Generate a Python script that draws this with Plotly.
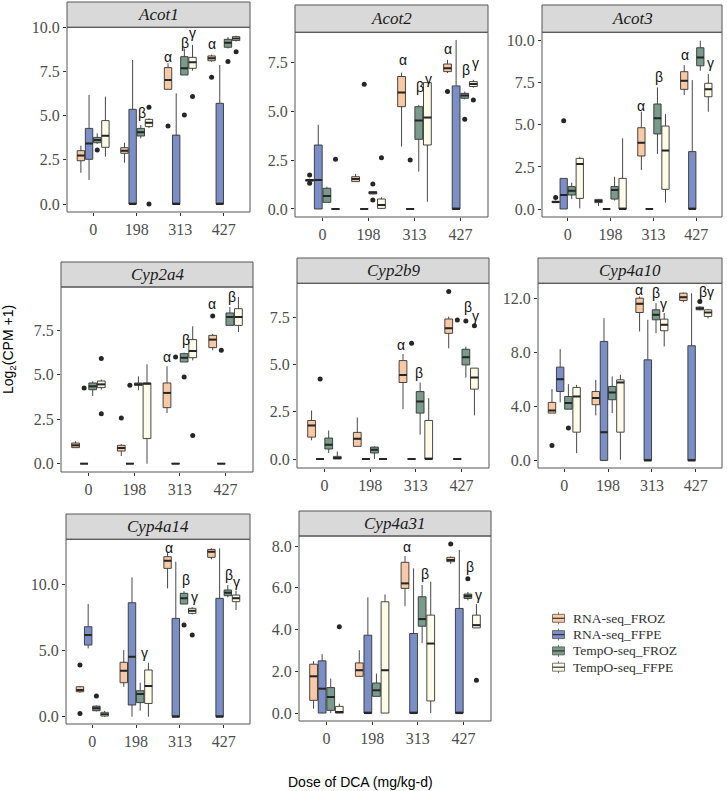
import plotly.graph_objects as go

W, H = 727, 791

doses = ["0", "198", "313", "427"]
series = ["RNA-seq_FROZ", "RNA-seq_FFPE", "TempO-seq_FROZ", "TempO-seq_FFPE"]
colors = ["#F8C9A4", "#7B8EC6", "#789B8C", "#FEFCE9"]

# each entry per dose: [lower whisker, q1, median, q3, upper whisker]
acot1_rna_froz = [[1.77, 2.45, 2.74, 3.02, 3.3], [2.34, 2.87, 3.02, 3.19, 3.47], [6.49, 6.49, 7.02, 7.72, 7.96], [8.05, 8.11, 8.25, 8.38, 8.45]]
acot1_rna_ffpe = [[1.36, 2.53, 3.43, 4.28, 6.17], [0, 0, 0, 5.36, 8.15], [0, 0, 0, 3.9, 6.26], [0, 0, 0, 5.7, 7.87]]
acot1_tmp_froz = [[3.4, 3.47, 3.62, 3.77, 4.0], [3.72, 3.85, 4.06, 4.28, 4.47], [7.3, 7.3, 7.68, 8.34, 8.8], [8.8, 8.87, 9.13, 9.32, 9.45]]
acot1_tmp_ffpe = [[2.68, 3.21, 3.87, 4.72, 6.08], [4.3, 4.38, 4.6, 4.79, 4.85], [7.55, 7.68, 8.02, 8.3, 9.0], [9.2, 9.25, 9.36, 9.47, 9.52]]
acot1_outliers = [(0, 2, 3.06), (1, 3, 5.47), (1, 3, 0.0), (2, 0, 4.42), (2, 2, 5.04), (2, 3, 6.08), (3, 0, 7.17), (3, 2, 8.06), (3, 3, 8.62)]
acot1_labels = [(1, 0.13, 5.13, "β"), (2, -0.28, 8.34, "α"), (2, 0.10, 9.13, "β"), (2, 0.28, 9.66, "γ"), (3, -0.28, 9.04, "α"), (3, 0.2, 10.4, "βγ")]

acot2_rna_froz = [[1.4, 1.42, 1.48, 1.5, 1.55], [1.4, 1.4, 1.53, 1.65, 1.79], [3.19, 5.23, 5.95, 6.77, 6.97], [6.95, 7.02, 7.19, 7.41, 7.62]]
acot2_rna_ffpe = [[0, 0, 1.48, 3.27, 4.3], [0, 0, 0, 0, 0], [0, 0, 0, 0, 0], [0, 0, 0, 6.29, 8.64]]
acot2_tmp_froz = [[0.34, 0.34, 0.66, 1.06, 1.14], [0.75, 0.77, 0.84, 0.88, 0.9], [1.91, 3.56, 4.52, 5.23, 5.32], [5.6, 5.66, 5.8, 5.91, 6.0]]
acot2_tmp_ffpe = [[0, 0, 0, 0, 0], [0, 0.03, 0.2, 0.51, 0.6], [0.37, 3.27, 4.67, 6.46, 6.46], [6.2, 6.26, 6.39, 6.51, 6.6]]
acot2_outliers = [(0, 0, 1.74), (0, 0, 1.31), (0, 3, 2.54), (1, 1, 6.37), (1, 2, 1.28), (1, 2, 0.46), (1, 3, 2.62), (2, 1, 2.5), (3, 0, 6.0), (3, 2, 4.58), (3, 3, 5.57)]
acot2_labels = [(2, -0.25, 7.62, "α"), (2, 0.11, 6.22, "β"), (2, 0.31, 6.63, "γ"), (3, -0.28, 8.2, "α"), (3, 0.12, 7.1, "β"), (3, 0.33, 7.45, "γ")]

acot3_rna_froz = [[0.36, 0.38, 0.42, 0.46, 0.5], [0.18, 0.38, 0.48, 0.57, 0.6], [2.32, 3.15, 3.94, 4.83, 5.78], [6.77, 7.11, 7.62, 8.16, 8.55]]
acot3_rna_ffpe = [[0, 0, 0.83, 1.82, 1.82], [0, 0, 0, 0, 0], [0, 0, 0, 0, 0], [0, 0, 0, 3.41, 7.66]]
acot3_tmp_froz = [[0.59, 0.83, 1.09, 1.33, 1.56], [0.5, 0.59, 1.13, 1.33, 1.92], [3.27, 4.46, 5.39, 6.24, 7.23], [8.22, 8.51, 9.01, 9.58, 10.0]]
acot3_tmp_ffpe = [[0.04, 0.63, 2.67, 3.01, 3.1], [0, 0, 0, 1.82, 4.2], [0.38, 1.17, 3.47, 4.93, 5.64], [5.78, 6.67, 7.11, 7.47, 8.02]]
acot3_outliers = [(0, 0, 0.69), (0, 1, 5.25)]
acot3_labels = [(2, -0.29, 6.12, "α"), (2, 0.12, 7.82, "β"), (3, -0.27, 9.15, "α"), (3, 0.12, 10.93, "β"), (3, 0.33, 8.65, "γ")]

cyp2a4_rna_froz = [[0.9, 0.9, 1.03, 1.16, 1.26], [0.43, 0.71, 0.88, 1.03, 1.1], [2.85, 3.15, 3.98, 4.54, 5.48], [6.38, 6.53, 6.98, 7.22, 7.3]]
cyp2a4_rna_ffpe = [[0, 0, 0, 0, 0], [0, 0, 0, 0, 0], [0, 0, 0, 0, 0], [0, 0, 0, 0, 0]]
cyp2a4_tmp_froz = [[3.81, 4.16, 4.35, 4.54, 4.63], [4.13, 4.41, 4.46, 4.54, 4.91], [5.72, 5.72, 5.96, 6.19, 6.25], [7.78, 7.78, 8.25, 8.48, 8.81]]
cyp2a4_tmp_ffpe = [[4.16, 4.28, 4.46, 4.65, 4.73], [0, 1.41, 4.5, 4.54, 5.59], [5.81, 5.96, 6.34, 6.98, 7.73], [7.41, 7.78, 8.25, 8.72, 9.38]]
cyp2a4_outliers = [(0, 1, 4.26), (0, 3, 5.91), (0, 3, 2.81), (1, 0, 2.57), (1, 1, 4.41), (2, 1, 6.0), (2, 2, 4.88), (2, 3, 1.59), (3, 0, 8.31), (3, 1, 6.38)]
cyp2a4_labels = [(2, -0.29, 6.0, "α"), (2, 0.14, 6.94, "β"), (3, -0.29, 9.0, "α"), (3, 0.14, 9.38, "β"), (3, 0.32, 10.3, "γ")]

cyp2b9_rna_froz = [[0.99, 1.16, 1.78, 2.04, 2.57], [0.67, 0.67, 1.07, 1.41, 2.2], [2.64, 4.05, 4.45, 5.21, 5.56], [5.86, 6.65, 6.92, 7.41, 7.54]]
cyp2b9_rna_ffpe = [[0, 0, 0, 0, 0], [0, 0, 0, 0, 0], [0, 0, 0, 0, 0], [0, 0, 0, 0, 0]]
cyp2b9_tmp_froz = [[0.32, 0.53, 0.76, 1.11, 1.51], [0, 0.32, 0.49, 0.63, 0.67], [1.29, 2.43, 3.05, 3.57, 4.05], [4.31, 4.98, 5.39, 5.81, 5.95]]
cyp2b9_tmp_ffpe = [[0, 0, 0.05, 0.14, 0.4], [0, 0, 0, 0, 0], [0, 0, 0, 2.04, 3.22], [2.31, 3.7, 4.31, 4.81, 4.81]]
cyp2b9_outliers = [(0, 1, 4.24), (2, 1, 6.13), (3, 0, 8.86), (3, 1, 7.36), (3, 2, 7.31), (3, 3, 7.06)]
cyp2b9_labels = [(2, -0.32, 6.04, "α"), (2, 0.07, 4.54, "β"), (3, -0.29, 9.56, "α"), (3, 0.13, 8.03, "β"), (3, 0.31, 7.59, "γ")]

cyp4a10_rna_froz = [[3.5, 3.5, 3.7, 4.29, 5.27], [3.33, 4.12, 4.61, 5.1, 5.96], [9.54, 10.94, 11.58, 12.0, 12.12], [11.7, 11.83, 12.07, 12.37, 12.42]]
cyp4a10_rna_ffpe = [[4.29, 5.1, 6.01, 6.9, 8.23], [0, 0, 2.09, 8.8, 10.52], [0, 0, 0, 7.44, 10.4], [0, 0, 0, 8.48, 12.37]]
cyp4a10_tmp_froz = [[3.79, 3.79, 4.24, 4.73, 5.64], [3.5, 4.49, 5.03, 5.47, 6.21], [9.41, 10.4, 10.77, 11.14, 11.63], [11.1, 11.14, 11.24, 11.34, 11.4]]
cyp4a10_tmp_ffpe = [[0.54, 2.09, 4.73, 5.4, 5.59], [0.05, 2.09, 5.77, 5.96, 6.33], [8.43, 9.59, 10.03, 10.45, 10.9], [10.5, 10.65, 10.94, 11.14, 11.2]]
cyp4a10_outliers = [(0, 0, 1.11), (0, 2, 2.39), (3, 2, 11.75)]
cyp4a10_labels = [(2, -0.3, 12.62, "α"), (2, 0.09, 12.37, "β"), (2, 0.26, 11.58, "γ"), (3, -0.27, 13.6, "α"), (3, 0.24, 12.49, "βγ")]

cyp4a14_rna_froz = [[1.8, 1.88, 2.01, 2.26, 2.3], [2.26, 2.56, 3.47, 4.1, 5.03], [9.67, 11.18, 11.76, 12.06, 12.36], [11.86, 12.01, 12.44, 12.61, 12.69]]
cyp4a14_rna_ffpe = [[5.15, 5.4, 6.16, 6.78, 8.49], [0, 0.88, 4.52, 8.59, 10.5], [0, 0, 0, 7.41, 11.68], [0, 0, 0, 8.92, 12.69]]
cyp4a14_tmp_froz = [[0.4, 0.45, 0.63, 0.8, 0.85], [0.45, 1.06, 1.71, 1.96, 2.56], [8.49, 8.49, 8.92, 9.3, 9.47], [9.0, 9.12, 9.35, 9.55, 9.92]]
cyp4a14_tmp_ffpe = [[0, 0.05, 0.18, 0.33, 0.43], [0, 1.0, 2.31, 3.52, 4.07], [7.7, 7.79, 7.99, 8.17, 8.25], [8.04, 8.67, 8.92, 9.17, 9.5]]
cyp4a14_outliers = [(0, 0, 3.89), (0, 0, 0.25), (0, 2, 1.56), (2, 2, 6.91), (2, 3, 6.16)]
cyp4a14_labels = [(1, 0.2, 4.77, "γ"), (2, -0.25, 12.69, "α"), (2, 0.13, 10.3, "β"), (2, 0.33, 9.05, "γ"), (3, -0.26, 14.07, "α"), (3, 0.12, 10.68, "β"), (3, 0.3, 10.18, "γ")]

cyp4a31_rna_froz = [[0.21, 0.61, 1.76, 2.34, 2.48], [1.76, 1.76, 2.05, 2.4, 3.01], [5.12, 5.97, 6.21, 7.22, 7.52], [7.15, 7.25, 7.33, 7.46, 7.5]]
cyp4a31_rna_ffpe = [[0, 0, 1.17, 2.5, 2.82], [0, 0, 0, 3.73, 5.54], [0, 0, 0, 3.81, 6.93], [0, 0, 0, 5.01, 7.81]]
cyp4a31_tmp_froz = [[0, 0.13, 0.77, 1.22, 1.65], [0.8, 0.8, 1.09, 1.44, 1.89], [3.36, 4.16, 4.5, 5.57, 6.13], [5.4, 5.49, 5.6, 5.7, 5.8]]
cyp4a31_tmp_ffpe = [[0, 0, 0.05, 0.32, 0.45], [0, 0, 2.05, 5.33, 5.68], [0, 0.58, 3.33, 4.69, 6.29], [4.08, 4.08, 4.21, 4.69, 5.22]]
cyp4a31_outliers = [(0, 3, 4.13), (3, 0, 8.1), (3, 2, 6.43), (3, 3, 1.57)]
cyp4a31_labels = [(2, -0.24, 7.97, "α"), (2, 0.16, 6.66, "β"), (3, -0.25, 8.85, "α"), (3, 0.15, 7.0, "β"), (3, 0.33, 5.65, "γ")]

# layout of each facet in pixels: (left, right, strip_top, plot_top, plot_bottom)
panels = [
    dict(gene="Acot1", stats=[acot1_rna_froz, acot1_rna_ffpe, acot1_tmp_froz, acot1_tmp_ffpe], out=acot1_outliers, lab=acot1_labels,
         px=(67, 250, 2, 27.3, 212), yr=(-0.45, 10.0), ticks=[0, 2.5, 5, 7.5, 10]),
    dict(gene="Acot2", stats=[acot2_rna_froz, acot2_rna_ffpe, acot2_tmp_froz, acot2_tmp_ffpe], out=acot2_outliers, lab=acot2_labels,
         px=(295, 488, 5, 32.3, 217), yr=(-0.41, 9.03), ticks=[0, 2.5, 5, 7.5]),
    dict(gene="Acot3", stats=[acot3_rna_froz, acot3_rna_ffpe, acot3_tmp_froz, acot3_tmp_ffpe], out=acot3_outliers, lab=acot3_labels,
         px=(542, 722, 5, 32.3, 217), yr=(-0.475, 10.5), ticks=[0, 2.5, 5, 7.5, 10]),
    dict(gene="Cyp2a4", stats=[cyp2a4_rna_froz, cyp2a4_rna_ffpe, cyp2a4_tmp_froz, cyp2a4_tmp_ffpe], out=cyp2a4_outliers, lab=cyp2a4_labels,
         px=(61, 253, 262, 287, 472), yr=(-0.47, 9.94), ticks=[0, 2.5, 5, 7.5]),
    dict(gene="Cyp2b9", stats=[cyp2b9_rna_froz, cyp2b9_rna_ffpe, cyp2b9_tmp_froz, cyp2b9_tmp_ffpe], out=cyp2b9_outliers, lab=cyp2b9_labels,
         px=(297, 489, 258, 283.3, 468), yr=(-0.475, 9.3), ticks=[0, 2.5, 5, 7.5]),
    dict(gene="Cyp4a10", stats=[cyp4a10_rna_froz, cyp4a10_rna_ffpe, cyp4a10_tmp_froz, cyp4a10_tmp_ffpe], out=cyp4a10_outliers, lab=cyp4a10_labels,
         px=(538, 722, 258, 283.3, 468), yr=(-0.56, 13.1), ticks=[0, 4, 8, 12]),
    dict(gene="Cyp4a14", stats=[cyp4a14_rna_froz, cyp4a14_rna_ffpe, cyp4a14_tmp_froz, cyp4a14_tmp_ffpe], out=cyp4a14_outliers, lab=cyp4a14_labels,
         px=(66, 250, 514, 539.3, 724), yr=(-0.55, 13.37), ticks=[0, 5, 10]),
    dict(gene="Cyp4a31", stats=[cyp4a31_rna_froz, cyp4a31_rna_ffpe, cyp4a31_tmp_froz, cyp4a31_tmp_ffpe], out=cyp4a31_outliers, lab=cyp4a31_labels,
         px=(299, 491, 511, 536, 721), yr=(-0.38, 8.48), ticks=[0, 2, 4, 6, 8]),
]

DODGE = 0.1875
BOXW = 0.17
offsets = [(s - 1.5) * DODGE for s in range(4)]
BORDER = "#555555"
SERIF = "Liberation Serif, Times New Roman, serif"
SANS = "Liberation Sans, Arial, sans-serif"


def fx(px):
    return px / W


def fy(py):
    return 1 - py / H


fig = go.Figure()
layout = dict(width=W, height=H, autosize=False,
              margin=dict(l=0, r=0, t=0, b=0, pad=0, autoexpand=False),
              paper_bgcolor="white", plot_bgcolor="white", boxmode="overlay",
              showlegend=False)
shapes, annotations = [], []

for i, p in enumerate(panels, start=1):
    sx = "" if i == 1 else str(i)
    xa, ya = "x" + sx, "y" + sx
    l, r, st, pt, pb = p["px"]
    layout["xaxis" + sx] = dict(domain=[fx(l), fx(r)], range=[-0.6, 3.6], anchor=ya, automargin=False,
                                tickvals=list(range(len(doses))), ticktext=doses,
                                showgrid=False, zeroline=False, showline=False,
                                ticks="outside", ticklen=3, tickwidth=1, tickcolor="#333333",
                                tickfont=dict(family=SERIF, size=16, color="#4d4d4d"))
    layout["yaxis" + sx] = dict(domain=[fy(pb), fy(pt)], range=list(p["yr"]), anchor=xa, automargin=False,
                                tickvals=p["ticks"], tickformat=".1f",
                                showgrid=False, zeroline=False, showline=False,
                                ticks="outside", ticklen=3, tickwidth=1, tickcolor="#333333",
                                tickfont=dict(family=SERIF, size=16, color="#4d4d4d"))
    for s in range(4):
        st_ = p["stats"][s]
        xs = [d + offsets[s] for d in range(len(doses))]
        fig.add_trace(go.Box(
            x=xs, lowerfence=[v[0] for v in st_], q1=[v[1] for v in st_], median=[v[2] for v in st_],
            q3=[v[3] for v in st_], upperfence=[v[4] for v in st_],
            width=BOXW, whiskerwidth=0, boxpoints=False,
            fillcolor=colors[s], line=dict(color="#333333", width=0.9),
            name=series[s], showlegend=False, xaxis=xa, yaxis=ya, hoverinfo="skip"))
        mx, my = [], []
        for d, v in enumerate(st_):
            c = d + offsets[s]
            mx += [c - BOXW / 2, c + BOXW / 2, None]
            my += [v[2], v[2], None]
        fig.add_trace(go.Scatter(x=mx, y=my, mode="lines", line=dict(color="#262626", width=2),
                                 showlegend=False, xaxis=xa, yaxis=ya, hoverinfo="skip"))
    ox = [d + offsets[s] for d, s, v in p["out"]]
    oy = [v for d, s, v in p["out"]]
    fig.add_trace(go.Scatter(x=ox, y=oy, mode="markers", marker=dict(size=5, color="#262626"),
                             showlegend=False, xaxis=xa, yaxis=ya, hoverinfo="skip"))
    for d, xo, yv, t in p["lab"]:
        annotations.append(dict(x=d + xo, y=yv, xref=xa, yref=ya, text=t, showarrow=False,
                                font=dict(family=SANS, size=14, color="#111111"),
                                xanchor="center", yanchor="middle"))
    # strip
    shapes.append(dict(type="rect", xref="paper", yref="paper", x0=fx(l), x1=fx(r),
                       y0=fy(pt), y1=fy(st), fillcolor="#D9D9D9",
                       line=dict(color=BORDER, width=1), layer="below"))
    annotations.append(dict(x=fx((l + r) / 2), y=fy((st + pt) / 2), xref="paper", yref="paper",
                            text="<i>" + p["gene"] + "</i>", showarrow=False,
                            font=dict(family=SERIF, size=17, color="#1a1a1a"),
                            xanchor="center", yanchor="middle"))
    # panel border
    shapes.append(dict(type="rect", xref="paper", yref="paper", x0=fx(l), x1=fx(r),
                       y0=fy(pb), y1=fy(pt), line=dict(color=BORDER, width=1),
                       fillcolor="rgba(0,0,0,0)", layer="above"))

annotations.append(dict(x=fx(9), y=fy(350), xref="paper", yref="paper",
                        text="Log<sub>2</sub>(CPM +1)", textangle=-90, showarrow=False,
                        font=dict(family=SANS, size=14, color="#000000"),
                        xanchor="center", yanchor="middle"))
annotations.append(dict(x=fx(360), y=fy(782), xref="paper", yref="paper",
                        text="Dose of DCA (mg/kg-d)", showarrow=False,
                        font=dict(family=SANS, size=14, color="#000000"),
                        xanchor="center", yanchor="middle"))

# legend (ggplot boxplot keys)
LEG_X, LEG_Y0, LEG_DY = 558.5, 618.3, 16.3
for k, name in enumerate(series):
    cy = LEG_Y0 + k * LEG_DY
    shapes.append(dict(type="line", xref="paper", yref="paper", x0=fx(LEG_X), x1=fx(LEG_X),
                       y0=fy(cy - 6), y1=fy(cy + 6), line=dict(color="#555555", width=0.8)))
    shapes.append(dict(type="rect", xref="paper", yref="paper", x0=fx(LEG_X - 6), x1=fx(LEG_X + 6),
                       y0=fy(cy + 4), y1=fy(cy - 4), fillcolor=colors[k],
                       line=dict(color="#555555", width=0.8)))
    shapes.append(dict(type="line", xref="paper", yref="paper", x0=fx(LEG_X - 6), x1=fx(LEG_X + 6),
                       y0=fy(cy), y1=fy(cy), line=dict(color="#333333", width=1.2)))
    annotations.append(dict(x=fx(571), y=fy(cy), xref="paper", yref="paper", text=name,
                            showarrow=False, xanchor="left", yanchor="middle",
                            font=dict(family=SERIF, size=13.5, color="#333333")))

layout["shapes"] = shapes
layout["annotations"] = annotations
fig.update_layout(**layout)
fig.write_html("out.html", config={"displayModeBar": False},
               post_script="document.body.style.margin='0';document.body.style.padding='0';")
